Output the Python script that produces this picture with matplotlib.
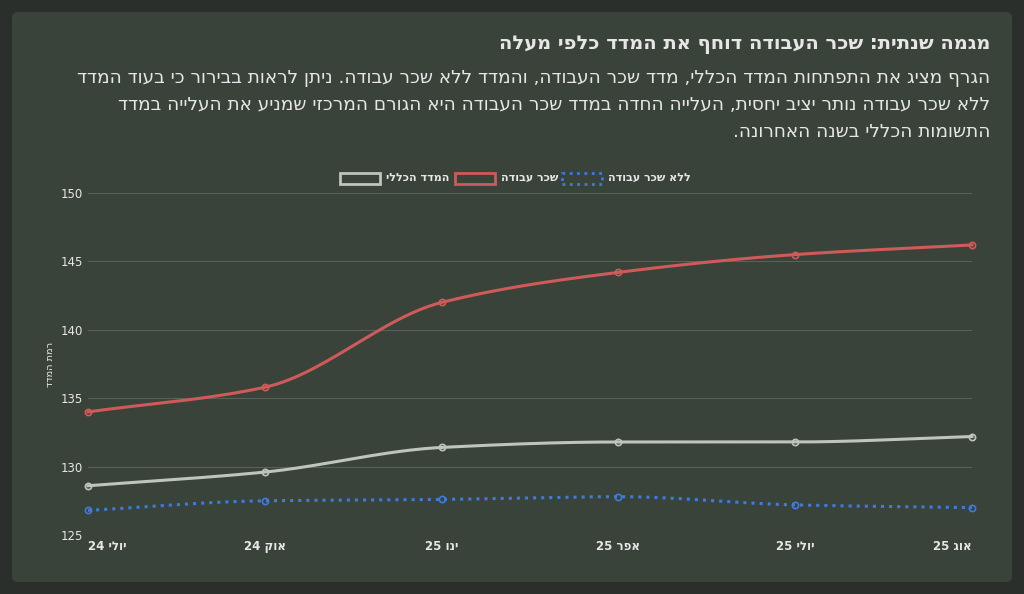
import matplotlib
matplotlib.use("Agg")
import matplotlib.pyplot as plt
import numpy as np
import re
from matplotlib.patches import FancyBboxPatch, Rectangle

def v(s):
    out = s[::-1]
    return re.sub(r'\d+', lambda m: m.group(0)[::-1], out)

labels = ["יולי 24", "אוק 24", "ינו 25", "אפר 25", "יולי 25", "אוג 25"]
general = [128.6, 129.6, 131.4, 131.8, 131.8, 132.2]
labor = [134.0, 135.8, 142.0, 144.2, 145.5, 146.2]
nolabor = [126.8, 127.5, 127.6, 127.8, 127.2, 127.0]

def smooth(y, n=30):
    y = np.asarray(y, float); x = np.arange(len(y))
    d = np.diff(y); m = np.zeros(len(y))
    m[0] = d[0]; m[-1] = d[-1]
    for i in range(1, len(y)-1):
        m[i] = 0 if d[i-1]*d[i] <= 0 else 2/(1/d[i-1]+1/d[i])
    xs, ys = [], []
    for i in range(len(y)-1):
        t = np.linspace(0, 1, n)
        h00 = 2*t**3-3*t**2+1; h10 = t**3-2*t**2+t; h01 = -2*t**3+3*t**2; h11 = t**3-t**2
        xs += list(x[i]+t); ys += list(h00*y[i]+h10*m[i]+h01*y[i+1]+h11*m[i+1])
    return xs, ys

fig = plt.figure(figsize=(10.24, 5.94), dpi=100)
fig.patch.set_facecolor("#2b2f2b")
card = FancyBboxPatch((12/1024, 12/594), 1000/1024, 570/594,
    boxstyle="round,pad=0,rounding_size=0.008", transform=fig.transFigure,
    facecolor="#3a4339", edgecolor="none", zorder=-10)
fig.patches.append(card)
txt = "#e6e6e6"
fig.text(990/1024, 1-44/594, v("מגמה שנתית: שכר העבודה דוחף את המדד כלפי מעלה"),
         ha="right", va="center", fontsize=14, fontweight="bold", color=txt)
lines = ["הגרף מציג את התפתחות המדד הכללי, מדד שכר העבודה, והמדד ללא שכר עבודה. ניתן לראות בבירור כי בעוד המדד",
         "ללא שכר עבודה נותר יציב יחסית, העלייה החדה במדד שכר העבודה היא הגורם המרכזי שמניע את העלייה במדד",
         "התשומות הכללי בשנה האחרונה."]
for i, l in enumerate(lines):
    fig.text(990/1024, 1-(78+27*i)/594, v(l), ha="right", va="center", fontsize=13.3, color=txt)

ax = fig.add_axes([88/1024, 1-535/594, 884/1024, 342/594])
ax.set_facecolor("#3a4339")
for s in ax.spines.values(): s.set_visible(False)
ax.set_ylim(125, 150); ax.set_xlim(0, 5)
ax.set_yticks([125, 130, 135, 140, 145, 150])
ax.grid(axis="y", color="#56625a", lw=0.8)
ax.tick_params(colors=txt, length=0, labelsize=8.5)
ax.set_xticks(range(6)); ax.set_xticklabels([v(l) for l in labels], fontweight="bold")
ax.get_xticklabels()[0].set_ha("left"); ax.get_xticklabels()[-1].set_ha("right")
ax.set_ylabel(v("רמת המדד"), color=txt, fontsize=7)
x = np.arange(6)
series = [(general, "#bfc4bd", "-", "המדד הכללי"), (labor, "#cf5a5a", "-", "שכר עבודה"),
          (nolabor, "#3d7be0", ":", "ללא שכר עבודה")]
for y, c, ls, name in series:
    xs, ys = smooth(y)
    ax.plot(xs, ys, color=c, lw=2.2, ls=ls, clip_on=False)
    ax.plot(x, y, 'o', ms=4.5, mfc="none", mec=c, mew=1.2, clip_on=False)
lx = [340, 455, 562]
for (y, c, ls, name), px in zip(series, lx):
    fig.patches.append(Rectangle((px/1024, 1-184/594), 40/1024, 11/594, transform=fig.transFigure,
                                 facecolor="none", edgecolor=c, lw=2, ls=":" if ls == ":" else "-"))
    fig.text((px+46)/1024, 1-178/594, v(name), ha="left", va="center", fontsize=8, color=txt, fontweight="bold")
fig.savefig("out.png", dpi=100, facecolor=fig.get_facecolor())
